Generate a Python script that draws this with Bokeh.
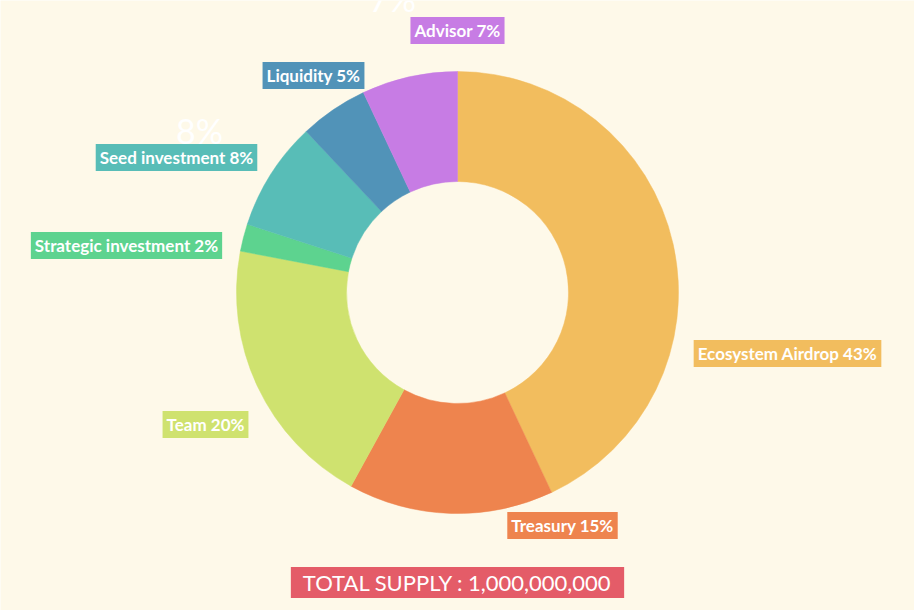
import numpy as np
from bokeh.plotting import figure
from bokeh.models import Range1d, ColumnDataSource
from bokeh.core.properties import value
from bokeh.embed import file_html
from bokeh.resources import INLINE

# ---- data ----
categories = ["Ecosystem Airdrop", "Treasury", "Team", "Strategic investment",
              "Seed investment", "Liquidity", "Advisor"]
shares = [43, 15, 20, 2, 8, 5, 7]
colors = ["#F2BD5E", "#EE844E", "#CFE26F", "#5DD38F", "#58BDB7", "#5193B8", "#C77CE4"]
total_supply = "1,000,000,000"

# ---- layout ----
W, H = 914, 610
BG = "#FEF9E9"
FONT = "Lato"
cx, cy = 457, H - 292
r_in, r_out = 111, 221
# label centers (pixel coords from top-left)
label_px = [787, 562, 205, 126, 176, 313, 457]
label_py = [353, 525, 424, 245, 157, 75, 30]

frac = np.array(shares, dtype=float) / sum(shares)
ends = np.cumsum(frac) * 2 * np.pi
starts = ends - frac * 2 * np.pi

src = ColumnDataSource(dict(
    cat=categories,
    start=np.pi / 2 - starts,
    end=np.pi / 2 - ends,
    color=colors,
    lx=label_px,
    ly=[H - y for y in label_py],
    label=[f"{c} {s}%" for c, s in zip(categories, shares)],
))

p = figure(width=W, height=H, x_range=Range1d(0, W), y_range=Range1d(0, H),
           output_backend="svg", toolbar_location=None, min_border=0)
p.axis.visible = False
p.grid.visible = False
p.outline_line_color = None
p.background_fill_color = BG
p.border_fill_color = BG

p.annular_wedge(x=cx, y=cy, inner_radius=r_in, outer_radius=r_out,
                start_angle="start", end_angle="end", direction="clock",
                fill_color="color", line_color="color", line_width=0.5, source=src)

# faint ghost percentage texts
p.text(x=[199, 392], y=[H - 130, H + 2], text=[f"{shares[4]}%", f"{shares[6]}%"],
       text_align="center", text_baseline="middle", text_color="white",
       text_font=value(FONT), text_font_size="34px")

p.text(x="lx", y="ly", text="label", source=src,
       text_align="center", text_baseline="middle", text_color="white",
       text_font=value(FONT), text_font_size="17px", text_font_style="bold",
       background_fill_color="color", padding=(4, 3))

p.text(x=[457], y=[H - 582], text=[f"TOTAL SUPPLY : {total_supply}"],
       text_align="center", text_baseline="middle", text_color="white",
       text_font=value(FONT), text_font_size="22px",
       background_fill_color="#E45C68", padding=(12, 2))

open("out.html", "w").write(file_html(p, INLINE))
